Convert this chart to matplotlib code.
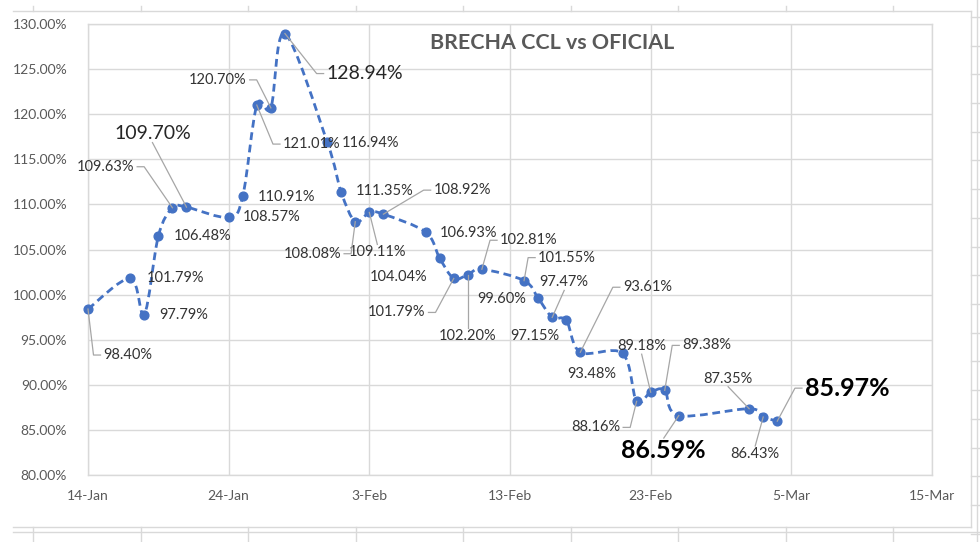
import numpy as np
import matplotlib
matplotlib.use("Agg")
import matplotlib.pyplot as plt
import matplotlib.dates as mdates
from matplotlib.path import Path
from matplotlib.patches import PathPatch
from matplotlib.lines import Line2D
from matplotlib.transforms import IdentityTransform

# ---------------- data ----------------
dates = ['2022-01-14', '2022-01-17', '2022-01-18', '2022-01-19', '2022-01-20', '2022-01-21',
         '2022-01-24', '2022-01-25', '2022-01-26', '2022-01-27', '2022-01-28',
         '2022-01-31', '2022-02-01', '2022-02-02', '2022-02-03', '2022-02-04',
         '2022-02-07', '2022-02-08', '2022-02-09', '2022-02-10', '2022-02-11',
         '2022-02-14', '2022-02-15', '2022-02-16', '2022-02-17', '2022-02-18',
         '2022-02-21', '2022-02-22', '2022-02-23', '2022-02-24', '2022-02-25',
         '2022-03-02', '2022-03-03', '2022-03-04']
brecha = [98.40, 101.79, 97.79, 106.48, 109.63, 109.70,
          108.57, 110.91, 121.01, 120.70, 128.94,
          116.94, 111.35, 108.08, 109.11, 108.92,
          106.93, 104.04, 101.79, 102.20, 102.81,
          101.55, 99.60, 97.47, 97.15, 93.61,
          93.48, 88.16, 89.18, 89.38, 86.59,
          87.35, 86.43, 85.97]
x_tick_dates = ['2022-01-14', '2022-01-24', '2022-02-03', '2022-02-13',
                '2022-02-23', '2022-03-05', '2022-03-15']
x_tick_labels = ['14-Jan', '24-Jan', '3-Feb', '13-Feb', '23-Feb', '5-Mar', '15-Mar']
y_ticks = [80, 85, 90, 95, 100, 105, 110, 115, 120, 125, 130]
title = 'BRECHA CCL vs OFICIAL'

# ---------------- label layout (pixel offsets, leader style) ----------------
label_offsets = [(40, -46), (45, 0), (39, 0), (44, 0), (-67, 41), (-34, 74),
                 (43, 0), (44, -1), (55, -39), (-53, 28), (80, -40),
                 (43, -1), (43, 1), (-43, -32), (8, -40), (79, 24),
                 (43, -1), (-41, -19), (-57, -34), (0, -61), (47, 29),
                 (43, 23), (-36, -1), (12, 35), (-31, -16), (67, 65),
                 (-31, -21), (-41, -26), (-9, 46), (42, 45), (-15, -35),
                 (-21, 30), (-8, -37), (70, 33)]
leaders = {0: 'L', 4: 'R', 5: 'B', 8: 'L', 9: 'R', 10: 'L', 13: 'R', 14: 'T',
           15: 'L', 18: 'R', 19: 'T', 20: 'L', 21: 'L', 23: 'B', 25: 'L',
           27: 'R', 28: 'B', 29: 'L', 30: 'T', 31: 'B', 32: 'T', 33: 'L'}
big_labels = {5, 10}
bold_labels = {30, 33}

FONT = 'Lato'
BLUE = '#4472C4'
GRID = '#D9D9D9'
TXT = '#595959'

W, H = 980, 542
fig = plt.figure(figsize=(W / 100, H / 100), dpi=100)
fig.patch.set_facecolor('white')

# plot area
L, R, T, B = 88, 932, 24, 475
ax = fig.add_axes([L / W, 1 - B / H, (R - L) / W, (B - T) / H])

xd = mdates.date2num(np.array(dates, dtype='datetime64[D]'))
yd = np.array(brecha)

# smooth (Excel-like) bezier line through the points
verts = [(xd[0], yd[0])]
codes = [Path.MOVETO]
n = len(xd)
for i in range(n - 1):
    p0 = np.array([xd[max(i - 1, 0)], yd[max(i - 1, 0)]])
    p1 = np.array([xd[i], yd[i]])
    p2 = np.array([xd[i + 1], yd[i + 1]])
    p3 = np.array([xd[min(i + 2, n - 1)], yd[min(i + 2, n - 1)]])
    c1 = p1 + (p2 - p0) / 6.0
    c2 = p2 - (p3 - p1) / 6.0
    verts += [tuple(c1), tuple(c2), tuple(p2)]
    codes += [Path.CURVE4, Path.CURVE4, Path.CURVE4]
patch = PathPatch(Path(verts, codes), facecolor='none', edgecolor=BLUE,
                  linewidth=2.0, linestyle=(0, (2.8, 1.7)), zorder=3)
ax.add_patch(patch)
ax.plot(xd, yd, linestyle='none', marker='o', markersize=6.3,
        color=BLUE, zorder=4, clip_on=False)

ax.set_xlim(mdates.date2num(np.datetime64(x_tick_dates[0])),
            mdates.date2num(np.datetime64(x_tick_dates[-1])))
ax.set_ylim(y_ticks[0], y_ticks[-1])
ax.set_xticks(mdates.date2num(np.array(x_tick_dates, dtype='datetime64[D]')))
ax.set_xticklabels(x_tick_labels)
ax.set_yticks(y_ticks)
ax.set_yticklabels([f'{v:.2f}%' for v in y_ticks])
ax.grid(True, color=GRID, linewidth=1.0, zorder=0)
ax.set_axisbelow(True)
for s in ax.spines.values():
    s.set_color(GRID)
    s.set_linewidth(1.0)
ax.tick_params(length=0, labelsize=10, labelcolor=TXT, pad=0)
ax.tick_params(axis='y', pad=15)
ax.tick_params(axis='x', pad=11)
for lab in ax.get_xticklabels() + ax.get_yticklabels():
    lab.set_fontfamily(FONT)

# data labels
anns = []
for i, (x, y) in enumerate(zip(xd, yd)):
    dx, dy = label_offsets[i]
    kw = dict(fontsize=10.5, color='#333333', fontweight='normal')
    if i in big_labels:
        kw = dict(fontsize=14, color='#262626', fontweight='normal')
    if i in bold_labels:
        kw = dict(fontsize=18, color='#000000', fontweight='bold')
    a = ax.annotate(f'{brecha[i]:.2f}%', (x, y), xytext=(dx, dy),
                    textcoords='offset pixels', ha='center', va='center',
                    family=FONT, zorder=5, **kw)
    anns.append(a)

fig.text(552 / W, 1 - 43 / H, title, ha='center', va='center', fontsize=15.4,
         fontweight='bold', color=TXT, family=FONT)

# leader lines (computed from rendered label boxes)
fig.canvas.draw()
renderer = fig.canvas.get_renderer()
for i, style in leaders.items():
    bb = anns[i].get_window_extent(renderer)
    px, py = ax.transData.transform((xd[i], yd[i]))
    cx, cy = (bb.x0 + bb.x1) / 2, (bb.y0 + bb.y1) / 2
    if style == 'L':
        xs = [bb.x0 - 3, bb.x0 - 10, px]
        ys = [cy, cy, py]
    elif style == 'R':
        xs = [bb.x1 + 3, bb.x1 + 10, px]
        ys = [cy, cy, py]
    elif style == 'T':
        xs = [cx, px]
        ys = [bb.y1 + 1, py]
    else:
        xs = [cx, px]
        ys = [bb.y0 - 1, py]
    fig.add_artist(Line2D(xs, ys, transform=IdentityTransform(),
                          color='#A6A6A6', linewidth=0.9, zorder=2))

# chart border and surrounding worksheet grid
def fl(x0, y0, x1, y1, c=GRID, lw=1.0):
    fig.add_artist(Line2D([x0 / W, x1 / W], [1 - y0 / H, 1 - y1 / H],
                          transform=fig.transFigure, color=c, linewidth=lw))

fl(13, 11, 971, 11)
fl(971, 11, 971, 527)
fl(13, 527, 971, 527)
fl(13, 532, 980, 532)
fl(977, 0, 977, 542)
for k in range(9):
    xc = 33 + 107.5 * k
    fl(xc, 6, xc, 11)
    fl(xc, 527, xc, 542)
for k in range(19):
    yc = 17 + 28.7 * k
    fl(971, yc, 980, yc)

fig.savefig('out.png', dpi=100, facecolor='white')
